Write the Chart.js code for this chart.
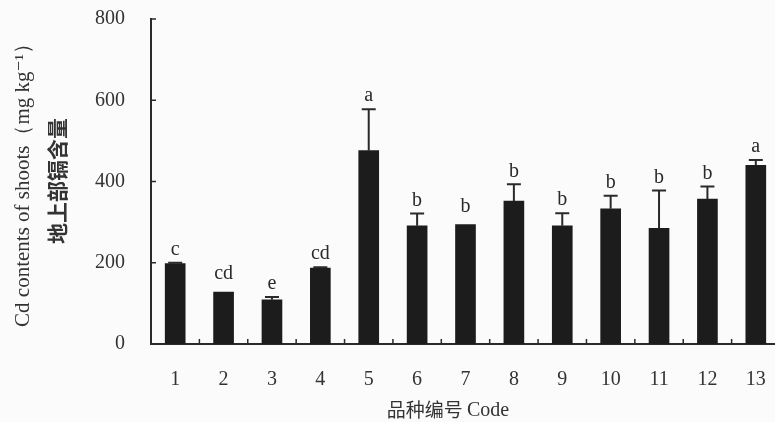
<!DOCTYPE html>
<html>
<head>
<meta charset="utf-8">
<script src="https://cdn.jsdelivr.net/npm/chart.js@4"></script>
<style>
  html, body { margin: 0; padding: 0; background: #fbfbfb; overflow: hidden; }
  #wrap { position: relative; width: 790px; height: 422px; }
</style>
</head>
<body>
<div id="wrap"><canvas id="cd-chart"></canvas></div>
<script>
// cultivar codes and Cd contents of shoots (mg/kg)
const codes = ["1", "2", "3", "4", "5", "6", "7", "8", "9", "10", "11", "12", "13"];
const cdShoots = [198, 128, 109, 187, 476, 291, 294, 352, 291, 333, 285, 357, 440];
const cdErr = [2, 0, 7, 2, 102, 30, 0, 41, 31, 32, 93, 31, 13];
const sigLetters = ["c", "cd", "e", "cd", "a", "b", "b", "b", "b", "b", "b", "b", "a"];
const yTicks = [0, 200, 400, 600, 800];

const ink = "#2a2a2a";
const serif = "'Liberation Serif', 'DejaVu Serif', serif";

// error bars, letters, inward tick marks and axis titles
const extras = {
  id: "extras",
  afterDatasetsDraw(chart) {
    const c = chart.ctx;
    const x = chart.scales.x;
    const y = chart.scales.y;
    const area = chart.chartArea;
    c.save();
    c.strokeStyle = ink;
    c.fillStyle = ink;
    c.lineWidth = 2;

    cdShoots.forEach((v, i) => {
      const px = x.getPixelForValue(i);
      const top = y.getPixelForValue(v);
      const errTop = y.getPixelForValue(v + cdErr[i]);
      if (cdErr[i] > 0) {
        c.beginPath();
        c.moveTo(px, top);
        c.lineTo(px, errTop);
        c.moveTo(px - 7, errTop);
        c.lineTo(px + 7, errTop);
        c.stroke();
      }
      c.font = "20px " + serif;
      c.textAlign = "center";
      c.textBaseline = "bottom";
      c.fillText(sigLetters[i], px, errTop - (cdErr[i] > 0 ? 3 : 8));
    });

    // tick marks pointing into the plot
    c.lineWidth = 1.5;
    c.beginPath();
    yTicks.forEach(t => {
      if (t === 0) return;
      const py = y.getPixelForValue(t);
      c.moveTo(area.left, py);
      c.lineTo(area.left + 5, py);
    });
    for (let i = 1; i < codes.length; i++) {
      const px = (x.getPixelForValue(i - 1) + x.getPixelForValue(i)) / 2;
      c.moveTo(px, area.bottom);
      c.lineTo(px, area.bottom - 5);
    }
    c.stroke();

    // y title, two lines
    c.fillStyle = "#333";
    c.save();
    c.translate(23, 180);
    c.rotate(-Math.PI / 2);
    c.textAlign = "center";
    c.textBaseline = "middle";
    c.font = "21px " + serif;
    c.fillText("Cd contents of shoots（mg kg⁻¹）", 0, 0);
    c.restore();

    c.save();
    c.translate(57, 181);
    c.rotate(-Math.PI / 2);
    c.textAlign = "center";
    c.textBaseline = "middle";
    c.font = "bold 21px 'Noto Sans CJK SC'";
    c.fillText("地上部镉含量", 0, 0);
    c.restore();

    // x title
    c.textBaseline = "middle";
    const zh = "品种编号 ";
    c.font = "19px 'Noto Sans CJK SC'";
    const w1 = c.measureText(zh).width;
    c.font = "20px " + serif;
    const w2 = c.measureText("Code").width;
    const startX = 448 - (w1 + w2) / 2;
    c.textAlign = "left";
    c.font = "19px 'Noto Sans CJK SC'";
    c.fillText(zh, startX, 410);
    c.font = "20px " + serif;
    c.fillText("Code", startX + w1, 411);
    c.restore();
  }
};

new Chart(document.getElementById("cd-chart"), {
  type: "bar",
  data: {
    labels: codes,
    datasets: [
      {
        data: cdShoots,
        backgroundColor: "#1c1c1c",
        barThickness: 20,
      },
    ],
  },
  options: {
    responsive: true,
    maintainAspectRatio: false,
    animation: false,
    layout: { padding: { top: 19, right: 10, left: 0, bottom: 0 } },
    plugins: {
      legend: { display: false },
      tooltip: { enabled: false },
    },
    scales: {
      x: {
        grid: { display: false },
        border: { display: true, color: ink, width: 2 },
        ticks: { color: "#333", font: { family: serif, size: 20 }, padding: 16 },
        afterFit: (s) => { s.height = 78; },
      },
      y: {
        min: 0,
        max: 800,
        grid: { display: false },
        border: { display: true, color: ink, width: 2 },
        ticks: {
          stepSize: 200,
          color: "#333",
          font: { family: serif, size: 20 },
          padding: 18,
        },
        afterFit: (s) => { s.width = 151; s.paddingTop = 0; s.paddingBottom = 0; },
      },
    },
  },
  plugins: [extras],
});
</script>
</body>
</html>
